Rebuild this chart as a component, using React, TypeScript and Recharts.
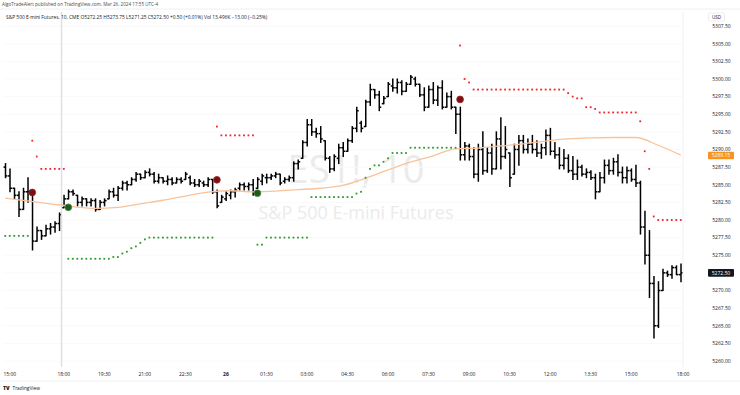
import React from 'react';
import {
  ComposedChart,
  Bar,
  Line,
  Scatter,
  XAxis,
  YAxis,
  CartesianGrid,
  ReferenceLine,
} from 'recharts';

document.body.style.margin = '0';

// 10-minute OHLC bars, Mar 25 14:50 -> Mar 26 16:50 (ET)
const OPEN = [
  5287.5, 5286.25, 5284.5, 5283.5, 5281.5, 5284.0, 5284.0, 5277.0, 5278.5, 5277.75,
  5278.75, 5279.0, 5279.5, 5281.75, 5283.0, 5284.0, 5283.5, 5282.5, 5283.0, 5282.5,
  5282.75, 5281.5, 5282.5, 5283.0, 5284.0, 5283.5, 5284.5, 5285.25, 5285.0, 5285.75,
  5286.5, 5286.0, 5286.75, 5286.5, 5285.5, 5286.0, 5285.5, 5285.75, 5285.25, 5285.75,
  5285.75, 5286.0, 5285.25, 5285.0, 5285.25, 5285.0, 5285.75, 5284.0, 5282.5, 5283.0,
  5283.5, 5284.0, 5284.5, 5285.0, 5284.75, 5285.0, 5284.5, 5285.5, 5286.0, 5286.0,
  5286.25, 5286.5, 5285.5, 5285.75, 5286.0, 5288.0, 5288.75, 5291.0, 5293.5, 5292.5,
  5292.25, 5291.25, 5288.75, 5287.25, 5288.75, 5290.25, 5289.75, 5291.25, 5293.0, 5293.75,
  5293.25, 5296.75, 5298.5, 5297.75, 5296.5, 5297.5, 5299.0, 5298.75, 5299.5, 5298.25,
  5299.25, 5300.0, 5299.25, 5297.75, 5296.0, 5298.5, 5297.0, 5298.75, 5296.0, 5297.5,
  5296.0, 5295.0, 5289.25, 5290.5, 5289.0, 5286.5, 5290.0, 5287.0, 5289.5, 5287.25,
  5291.5, 5289.0, 5289.5, 5286.5, 5290.0, 5291.25, 5290.0, 5290.75, 5290.0, 5289.5,
  5290.25, 5292.0, 5289.75, 5289.25, 5287.75, 5288.75, 5287.0, 5286.5, 5287.5, 5286.5,
  5286.75, 5286.0, 5284.0, 5286.0, 5287.75, 5287.0, 5288.25, 5286.75, 5286.0, 5287.0,
  5285.75, 5285.25, 5279.0, 5275.0, 5271.0, 5265.0, 5270.0, 5272.5, 5272.25, 5273.25,
  5272.25,
];
const HIGH = [
  5288.0, 5287.25, 5284.5, 5284.0, 5284.5, 5286.0, 5284.0, 5279.0, 5278.5, 5279.25,
  5279.5, 5279.75, 5281.0, 5283.5, 5284.25, 5284.25, 5283.5, 5283.25, 5283.0, 5283.0,
  5283.0, 5282.75, 5283.0, 5284.25, 5284.5, 5284.75, 5285.5, 5285.5, 5286.0, 5286.75,
  5286.5, 5287.0, 5287.25, 5286.75, 5286.5, 5286.0, 5286.25, 5286.0, 5286.0, 5286.0,
  5286.75, 5286.25, 5285.75, 5285.75, 5285.5, 5286.0, 5285.75, 5284.25, 5283.5, 5284.0,
  5284.25, 5284.5, 5285.25, 5285.25, 5285.25, 5285.75, 5286.0, 5286.5, 5286.5, 5286.5,
  5286.75, 5286.5, 5286.0, 5286.25, 5288.25, 5288.5, 5291.25, 5294.25, 5294.25, 5293.0,
  5293.25, 5291.25, 5289.0, 5289.25, 5290.75, 5291.0, 5291.5, 5293.25, 5296.0, 5294.0,
  5297.0, 5299.25, 5298.5, 5298.25, 5297.5, 5299.5, 5300.0, 5300.0, 5299.75, 5299.5,
  5300.5, 5300.25, 5299.25, 5298.75, 5299.0, 5299.5, 5299.0, 5299.75, 5298.0, 5298.25,
  5296.0, 5296.0, 5291.0, 5290.75, 5290.25, 5290.75, 5292.5, 5290.25, 5290.75, 5292.5,
  5294.5, 5293.25, 5289.5, 5290.75, 5292.0, 5292.0, 5291.5, 5292.0, 5291.25, 5290.75,
  5292.75, 5293.0, 5291.0, 5290.25, 5290.0, 5289.25, 5289.0, 5288.5, 5287.75, 5287.25,
  5287.0, 5286.5, 5286.75, 5288.5, 5288.5, 5288.75, 5289.25, 5287.5, 5287.5, 5287.25,
  5287.75, 5285.5, 5281.25, 5278.5, 5272.0, 5271.25, 5273.0, 5272.75, 5273.5, 5273.5,
  5273.75,
];
const LOW = [
  5286.0, 5284.0, 5283.0, 5280.5, 5281.5, 5282.5, 5275.75, 5277.0, 5277.25, 5277.75,
  5278.0, 5278.25, 5278.5, 5281.75, 5283.0, 5283.5, 5282.0, 5282.0, 5282.0, 5282.0,
  5281.25, 5281.5, 5282.0, 5283.0, 5283.25, 5282.75, 5284.25, 5284.25, 5285.0, 5285.5,
  5285.75, 5286.0, 5286.25, 5285.25, 5285.25, 5285.25, 5285.0, 5285.0, 5285.25, 5285.25,
  5285.75, 5285.0, 5284.75, 5284.75, 5284.75, 5284.75, 5283.75, 5281.75, 5282.5, 5282.75,
  5283.0, 5283.25, 5284.25, 5284.25, 5284.25, 5283.5, 5284.5, 5285.0, 5285.25, 5285.75,
  5286.0, 5285.0, 5285.25, 5285.5, 5285.5, 5287.25, 5288.75, 5290.5, 5292.0, 5291.75,
  5291.0, 5288.5, 5286.75, 5287.0, 5288.0, 5289.0, 5289.75, 5291.0, 5292.5, 5292.5,
  5293.25, 5296.25, 5297.25, 5295.5, 5296.5, 5297.5, 5298.25, 5298.0, 5297.75, 5298.25,
  5299.25, 5299.0, 5297.5, 5295.5, 5296.0, 5296.5, 5296.25, 5295.75, 5296.0, 5295.75,
  5292.25, 5288.5, 5288.5, 5288.5, 5286.0, 5285.5, 5286.5, 5286.75, 5286.5, 5287.25,
  5287.25, 5288.75, 5284.75, 5286.5, 5287.75, 5289.5, 5289.5, 5289.5, 5289.0, 5288.75,
  5289.25, 5289.25, 5288.75, 5287.25, 5287.25, 5286.75, 5285.75, 5285.75, 5286.25, 5286.0,
  5285.75, 5283.0, 5284.0, 5285.25, 5286.5, 5286.5, 5286.25, 5285.25, 5285.25, 5285.5,
  5284.75, 5278.0, 5273.75, 5269.0, 5263.25, 5264.75, 5270.0, 5272.0, 5271.75, 5272.25,
  5271.25,
];
const CLOSE = [
  5286.25, 5284.5, 5283.5, 5281.5, 5284.0, 5284.0, 5277.0, 5278.5, 5277.75, 5278.75,
  5279.0, 5279.5, 5280.75, 5283.0, 5284.0, 5283.75, 5282.5, 5283.0, 5282.5, 5282.75,
  5281.5, 5282.5, 5282.75, 5284.0, 5283.5, 5284.5, 5285.25, 5285.0, 5285.75, 5286.5,
  5286.0, 5286.75, 5286.5, 5285.5, 5286.0, 5285.5, 5285.75, 5285.25, 5285.75, 5285.5,
  5286.5, 5285.25, 5285.0, 5285.5, 5285.0, 5285.75, 5284.0, 5282.0, 5283.25, 5283.75,
  5284.0, 5284.25, 5285.0, 5284.75, 5285.0, 5283.75, 5285.75, 5286.25, 5286.0, 5286.25,
  5286.5, 5285.25, 5285.75, 5286.0, 5288.0, 5288.25, 5291.0, 5293.5, 5292.5, 5292.25,
  5291.5, 5288.75, 5287.25, 5289.0, 5290.25, 5289.75, 5291.25, 5293.0, 5295.5, 5293.0,
  5296.75, 5298.5, 5297.75, 5296.0, 5297.25, 5299.25, 5298.75, 5299.5, 5298.25, 5299.25,
  5300.25, 5299.25, 5297.75, 5296.0, 5298.5, 5297.0, 5298.75, 5296.0, 5297.5, 5296.0,
  5295.0, 5289.25, 5290.5, 5289.0, 5286.5, 5290.0, 5287.0, 5289.5, 5287.25, 5291.5,
  5289.0, 5290.0, 5286.0, 5290.0, 5291.25, 5290.0, 5290.75, 5290.0, 5289.5, 5290.25,
  5292.0, 5289.75, 5289.25, 5287.75, 5288.75, 5287.0, 5286.5, 5287.5, 5286.5, 5286.75,
  5286.0, 5284.0, 5286.0, 5287.75, 5287.0, 5288.25, 5286.75, 5286.0, 5287.0, 5285.75,
  5285.25, 5279.0, 5275.0, 5271.0, 5265.0, 5270.0, 5272.5, 5272.25, 5273.25, 5272.25,
  5272.5,
];

// trailing stop dots (green under price in uptrend, red above in downtrend)
const STOP = [
  5277.75, 5277.75, 5277.75, 5277.75, 5277.75, 5277.75, 5291.25, 5289.0, 5287.25, 5287.25,
  5287.25, 5287.25, 5287.25, 5287.25, 5274.5, 5274.5, 5274.5, 5274.5, 5274.5, 5274.5,
  5274.5, 5274.5, 5274.5, 5274.5, 5274.75, 5274.75, 5275.25, 5275.5, 5276.0, 5276.25,
  5276.75, 5277.25, 5277.5, 5277.5, 5277.5, 5277.5, 5277.5, 5277.5, 5277.5, 5277.5,
  5277.5, 5277.5, 5277.5, 5277.5, 5277.5, 5277.5, 5277.5, 5293.25, 5292.0, 5292.0,
  5292.0, 5292.0, 5292.0, 5292.0, 5292.0, 5292.0, 5276.5, 5276.5, 5277.5, 5277.5,
  5277.5, 5277.5, 5277.5, 5277.5, 5277.5, 5277.5, 5277.5, 5277.5, 5283.25, 5283.25,
  5283.25, 5283.25, 5283.25, 5283.25, 5283.25, 5283.25, 5283.25, 5283.25, 5283.75, 5284.0,
  5286.0, 5287.25, 5287.75, 5287.75, 5288.25, 5288.75, 5289.5, 5289.5, 5289.5, 5289.5,
  5290.25, 5290.25, 5290.25, 5290.25, 5290.25, 5290.25, 5290.25, 5290.25, 5290.25, 5290.25,
  5290.25, 5304.75, 5300.0, 5299.5, 5298.5, 5298.5, 5298.5, 5298.5, 5298.5, 5298.5,
  5298.5, 5298.5, 5298.5, 5298.5, 5298.5, 5298.5, 5298.5, 5298.5, 5298.5, 5298.5,
  5298.5, 5298.5, 5298.5, 5298.5, 5298.5, 5298.0, 5297.5, 5297.25, 5297.25, 5296.0,
  5296.0, 5295.75, 5295.25, 5295.25, 5295.25, 5295.25, 5295.25, 5295.25, 5295.25, 5295.25,
  5295.25, 5294.0, 5289.75, 5287.25, 5280.5, 5280.0, 5280.0, 5280.0, 5280.0, 5280.0,
  5280.0,
];

// trend flip markers
const SIGNAL_BARS = [6, 14, 47, 56, 101];
const SIGNAL_PRICES = [5283.9, 5281.8, 5285.7, 5283.8, 5297.1];
const SIGNAL_SIDES = ['sell', 'buy', 'sell', 'buy', 'sell'];

// moving average, read every 5 bars
const MA_BARS = [0, 5, 10, 15, 20, 25, 30, 35, 40, 45, 50, 55, 60, 65, 70, 75, 80, 85, 90, 95, 100, 105, 110, 115, 120, 125, 130, 135, 140, 145, 150];
const MA_VALUES = [
  5283.1, 5282.7, 5282.3, 5281.9, 5281.65, 5281.8, 5282.3, 5282.8, 5283.4, 5283.95,
  5284.15, 5284.0, 5284.1, 5284.3, 5284.5, 5284.9, 5285.9, 5287.1, 5288.2, 5289.1,
  5290.1, 5290.2, 5290.5, 5290.8, 5291.2, 5291.5, 5291.65, 5291.7, 5291.7, 5290.6,
  5289.2,
];

const PRICE_TICKS = [
  5260, 5262.5, 5265, 5267.5, 5270, 5272.5, 5275, 5277.5, 5280, 5282.5,
  5285, 5287.5, 5290, 5292.5, 5295, 5297.5, 5300, 5302.5, 5305, 5307.5,
];
const TIME_TICK_BARS = [1, 13, 22, 31, 40, 49, 58, 67, 76, 85, 94, 103, 112, 121, 130, 139];
const TIME_TICK_LABELS = ['15:00', '18:00', '19:30', '21:00', '22:30', '26', '01:30', '03:00', '04:30', '06:00', '07:30', '09:00', '10:30', '12:00', '13:30', '15:00'];
const SESSION_START_BAR = 13;
const LAST_PRICE = 5272.5;
const MA_LAST = 5289.15;

const FONT = '"Open Sans", "DejaVu Sans", sans-serif';

const rows = OPEN.map((o, i) => {
  let side = 'buy';
  SIGNAL_BARS.forEach((b, k) => {
    if (i >= b) side = SIGNAL_SIDES[k];
  });
  const si = SIGNAL_BARS.indexOf(i);
  const mi = MA_BARS.indexOf(i);
  return {
    i,
    open: o,
    high: HIGH[i],
    low: LOW[i],
    close: CLOSE[i],
    range: [LOW[i], HIGH[i]],
    redStop: side === 'sell' ? STOP[i] : null,
    greenStop: side === 'buy' ? STOP[i] : null,
    sig: si >= 0 ? SIGNAL_PRICES[si] : null,
    sigSide: si >= 0 ? SIGNAL_SIDES[si] : null,
    ma: mi >= 0 ? MA_VALUES[mi] : null,
  };
});

function OhlcBar(props: any) {
  const { x, y, width, height, payload } = props;
  if (!payload || x == null) return null;
  const top = Math.min(y, y + height);
  const h = Math.abs(height);
  const span = payload.high - payload.low;
  const toY = (v: number) => (span === 0 ? top : top + ((payload.high - v) / span) * h);
  const cx = x + width / 2;
  const yo = toY(payload.open);
  const yc = toY(payload.close);
  return (
    <g stroke="#000" strokeWidth={1.5}>
      <line x1={cx} x2={cx} y1={top - 0.5} y2={top + h + 0.5} />
      <line x1={cx - 2} x2={cx} y1={yo} y2={yo} />
      <line x1={cx} x2={cx + 2} y1={yc} y2={yc} />
    </g>
  );
}

const stopDot = (color: string, key: string) => (props: any) => {
  const { cx, cy, payload } = props;
  if (!payload || payload[key] == null || cy == null || isNaN(cy)) return <g />;
  return <rect x={cx - 0.9} y={cy - 0.9} width={1.8} height={1.8} fill={color} />;
};

function SignalDot(props: any) {
  const { cx, cy, payload } = props;
  if (!payload || payload.sig == null || cy == null || isNaN(cy)) return <g />;
  const sell = payload.sigSide === 'sell';
  return (
    <circle
      cx={cx}
      cy={cy}
      r={3.4}
      fill={sell ? '#7a1014' : '#1e5a1c'}
      stroke={sell ? '#a0262a' : '#4f8d48'}
      strokeWidth={0.8}
    />
  );
}

function TimeTick(props: any) {
  const { x, payload } = props;
  const k = TIME_TICK_BARS.indexOf(payload.value);
  const label = k >= 0 ? TIME_TICK_LABELS[k] : '';
  return (
    <text x={x} y={376} textAnchor="middle" fontSize={5} fontFamily={FONT} fill="#131722" fontWeight={label === '26' ? 700 : 400}>
      {label}
    </text>
  );
}

function PriceTick(props: any) {
  const { y, payload } = props;
  const v = payload.value;
  const label = v.toFixed(2);
  if (v === MA_LAST || (v === LAST_PRICE && payload.index === PRICE_TICKS.length + 1)) {
    const bg = v === MA_LAST ? '#f7931e' : '#131722';
    return (
      <g>
        <rect x={708} y={y - 3.8} width={26} height={7.6} fill={bg} rx={0.8} />
        <text x={721} y={y + 1.8} textAnchor="middle" fontSize={5} fontFamily={FONT} fill="#fff">
          {label}
        </text>
      </g>
    );
  }
  return (
    <text x={721.5} y={y + 1.8} textAnchor="middle" fontSize={5} fontFamily={FONT} fill="#131722">
      {label}
    </text>
  );
}

export default function App() {
  return (
    <div style={{ position: 'relative', width: 740, height: 395, background: '#fff', overflow: 'hidden', fontFamily: FONT }}>
      <svg width={740} height={395} style={{ position: 'absolute', left: 0, top: 0 }}>
        <text x={356} y={183} textAnchor="middle" fontSize={38} fontFamily={FONT} fill="#ebebeb">
          ES1!, 10
        </text>
        <text x={356} y={219} textAnchor="middle" fontSize={18} fontFamily={FONT} fill="#ebebeb">
          S&amp;P 500 E-mini Futures
        </text>
      </svg>
      <div style={{ position: 'absolute', left: 0, top: 0 }}>
        <ComposedChart width={740} height={380} data={rows} margin={{ top: 12, right: 0, bottom: 0, left: 3 }} barCategoryGap={0}>
          <CartesianGrid vertical={false} stroke="#fafafb" horizontalValues={PRICE_TICKS} />
          <XAxis
            dataKey="i"
            type="category"
            ticks={TIME_TICK_BARS}
            interval={0}
            tick={<TimeTick />}
            tickLine={false}
            axisLine={false}
            height={13}
          />
          <YAxis
            orientation="right"
            width={57}
            domain={[5259.15, 5309.5]}
            allowDataOverflow
            ticks={[...PRICE_TICKS, MA_LAST, LAST_PRICE]}
            interval={0}
            tick={<PriceTick />}
            tickLine={false}
            axisLine={{ stroke: '#eef0f3' }}
          />
          <ReferenceLine x={SESSION_START_BAR} position="start" stroke="#dcdfe4" strokeWidth={1.5} />
          <Line dataKey="ma" type="monotone" connectNulls stroke="#f8c39b" strokeWidth={1.3} dot={false} isAnimationActive={false} />
          <Bar dataKey="range" shape={<OhlcBar />} isAnimationActive={false} />
          <Scatter dataKey="redStop" shape={stopDot('#f2222a', 'redStop')} isAnimationActive={false} />
          <Scatter dataKey="greenStop" shape={stopDot('#2c9a2c', 'greenStop')} isAnimationActive={false} />
          <Scatter dataKey="sig" shape={<SignalDot />} isAnimationActive={false} />
        </ComposedChart>
      </div>
      <svg width={740} height={395} style={{ position: 'absolute', left: 0, top: 0, pointerEvents: 'none' }}>
        <line x1={0} x2={740} y1={9} y2={9} stroke="#eef0f3" />
        <text x={2} y={6} fontSize={4.6} fontFamily={FONT} fill="#4a4a4a">
          AlgoTradeAlert published on TradingView.com, Mar 26, 2024 17:55 UTC-4
        </text>
        <text x={6} y={18.5} fontSize={4.85} fontFamily={FONT} fill="#131722">
          S&amp;P 500 E-mini Futures, 10, CME  O5272.25  H5273.75  L5271.25  C5272.50  +0.50 (+0.01%)  Vol 13.496K  −13.00 (−0.25%)
        </text>
        <rect x={708.5} y={13} width={16} height={8} fill="#fff" stroke="#e0e3eb" strokeWidth={0.6} rx={1} />
        <text x={716.5} y={18.8} textAnchor="middle" fontSize={4.6} fontFamily={FONT} fill="#131722">
          USD
        </text>
        <text x={683} y={376} textAnchor="middle" fontSize={5} fontFamily={FONT} fill="#131722">
          18:00
        </text>
        <line x1={0} x2={740} y1={381} y2={381} stroke="#eef0f3" />
        <text x={3} y={390} fontSize={5.2} fontFamily={FONT} fontWeight={800} fill="#131722">
          TV
        </text>
        <text x={12.5} y={390} fontSize={4.8} fontFamily={FONT} fill="#131722">
          TradingView
        </text>
      </svg>
    </div>
  );
}
